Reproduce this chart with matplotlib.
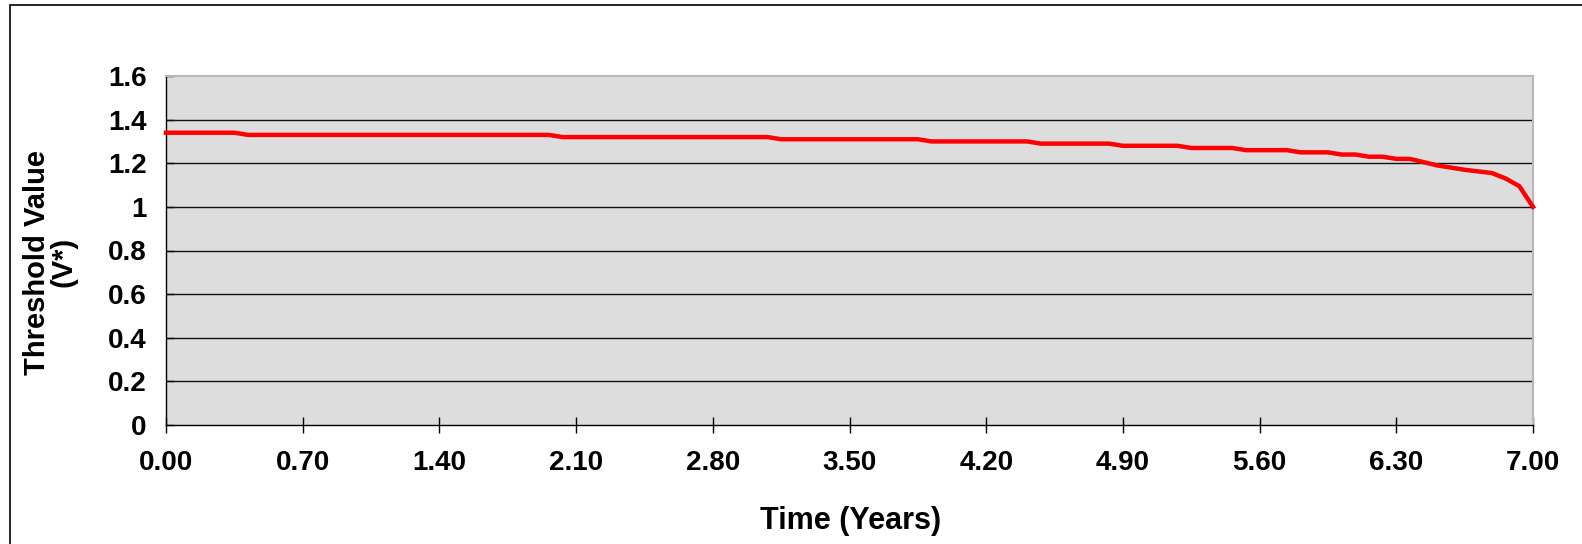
import matplotlib
matplotlib.use("Agg")
import matplotlib.pyplot as plt
from matplotlib.patches import Rectangle

# Data
time_years = [0.00, 0.35, 0.42, 1.96, 2.03, 3.08, 3.15, 3.85, 3.92, 4.41, 4.48,
              4.83, 4.90, 5.18, 5.25, 5.46, 5.53, 5.74, 5.81, 5.95, 6.02, 6.09,
              6.16, 6.23, 6.30, 6.37, 6.51, 6.65, 6.79, 6.86, 6.93, 7.00]
threshold = [1.34, 1.34, 1.33, 1.33, 1.32, 1.32, 1.31, 1.31, 1.30, 1.30, 1.29,
             1.29, 1.28, 1.28, 1.27, 1.27, 1.26, 1.26, 1.25, 1.25, 1.24, 1.24,
             1.23, 1.23, 1.22, 1.22, 1.19, 1.17, 1.155, 1.13, 1.095, 1.00]
x_ticks = [0.00, 0.70, 1.40, 2.10, 2.80, 3.50, 4.20, 4.90, 5.60, 6.30, 7.00]
x_tick_labels = ["0.00", "0.70", "1.40", "2.10", "2.80", "3.50", "4.20",
                 "4.90", "5.60", "6.30", "7.00"]
y_ticks = [0, 0.2, 0.4, 0.6, 0.8, 1.0, 1.2, 1.4, 1.6]
y_tick_labels = ["0", "0.2", "0.4", "0.6", "0.8", "1", "1.2", "1.4", "1.6"]

plt.rcParams['font.family'] = ['Liberation Sans', 'DejaVu Sans']

W, H = 1582, 544
fig = plt.figure(figsize=(W / 100, H / 100), dpi=100)
fig.patch.set_facecolor('white')

left, right, top, bottom = 166, 1533, 76, 425
ax = fig.add_axes([left / W, 1 - bottom / H, (right - left) / W, (bottom - top) / H])
ax.set_facecolor('#dddddd')

ax.plot(time_years, threshold, color='#ff0000', linewidth=3.2,
        solid_joinstyle='round', zorder=3, clip_on=False)

ax.set_xlim(0, 7)
ax.set_ylim(0, 1.6)
ax.set_xticks(x_ticks)
ax.set_xticklabels(x_tick_labels)
ax.set_yticks(y_ticks)
ax.set_yticklabels(y_tick_labels)

for y in y_ticks[1:-1]:
    ax.axhline(y, color='#111111', linewidth=1.0, zorder=2)

for side in ['top', 'right']:
    ax.spines[side].set_color('#b8b8b8')
    ax.spines[side].set_linewidth(1.5)
for side in ['left', 'bottom']:
    ax.spines[side].set_color('#000000')
    ax.spines[side].set_linewidth(1.0)

ax.tick_params(axis='x', direction='inout', length=12, width=1.0,
               labelsize=20, pad=12)
ax.tick_params(axis='y', direction='in', length=6, width=1.0,
               labelsize=20, pad=14)
for lbl in ax.get_xticklabels() + ax.get_yticklabels():
    lbl.set_fontweight('bold')

fig.text(851 / W, 1 - 521 / H, "Time (Years)", ha='center', va='center',
         fontsize=22, fontweight='bold')
fig.text(50 / W, 1 - 262 / H, "Threshold Value\n(V*)", ha='center',
         va='center', rotation=90, fontsize=21, fontweight='bold',
         linespacing=0.95)

# outer chart border (cut off at right and bottom)
fig.add_artist(Rectangle((10 / W, -0.1), 1.2, 1 - 5 / H + 0.1,
                         transform=fig.transFigure, fill=False,
                         edgecolor='#000000', linewidth=1.2))

fig.savefig("out.png", dpi=100, facecolor='white')
